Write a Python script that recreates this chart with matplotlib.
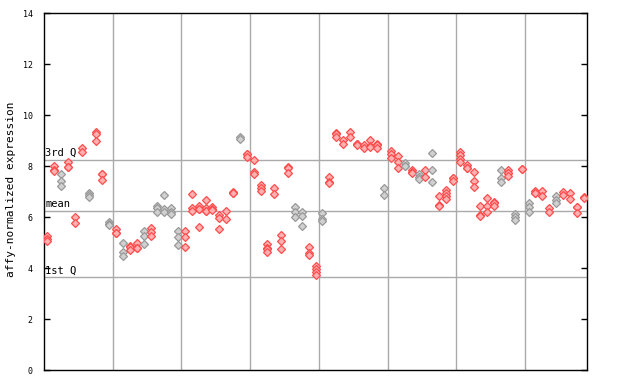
import matplotlib
matplotlib.use("Agg")
import matplotlib.pyplot as plt

# expression values per sample column (replicates)
sample_values = [
    [5.25, 5.15, 5.05], [8.0, 7.85, 7.82], [7.69, 7.40, 7.23], [8.18, 7.98, 7.95],
    [6.0, 5.76], [8.7, 8.57], [6.96, 6.87, 6.78], [9.36, 9.27, 8.99],
    [7.71, 7.68, 7.46], [5.79, 5.72, 5.70], [5.53, 5.39, 5.37], [4.98, 4.65, 4.48],
    [4.85, 4.83, 4.72], [4.98, 4.80, 4.78], [5.46, 5.27, 4.95], [5.57, 5.41, 5.27],
    [6.44, 6.35, 6.2], [6.86, 6.33, 6.22], [6.35, 6.22, 6.12], [5.46, 5.22, 4.89],
    [5.46, 5.22, 4.82], [6.9, 6.35, 6.25], [6.42, 6.33, 6.31, 5.61], [6.67, 6.35, 6.26, 6.24],
    [6.38, 6.32, 6.27], [6.07, 5.96, 5.53], [6.25, 5.92], [6.97, 6.95, 6.93],
    [9.14, 9.06], [8.49, 8.46, 8.35], [8.25, 7.79, 7.7], [7.27, 7.16, 7.04],
    [4.95, 4.77, 4.75, 4.64], [7.14, 6.9], [5.28, 5.07, 4.75], [7.96, 7.93, 7.73],
    [6.38, 6.2, 6.0], [6.22, 6.05, 5.66], [4.82, 4.61, 4.52], [4.09, 3.96, 3.85, 3.74],
    [6.16, 5.92, 5.83], [7.57, 7.37, 7.35], [9.30, 9.27, 9.16], [9.03, 8.87],
    [9.36, 9.14], [8.88, 8.86, 8.84], [8.84, 8.73], [9.03, 8.78, 8.76],
    [8.87, 8.85, 8.73], [7.14, 6.86], [8.6, 8.47, 8.34], [8.38, 8.18, 7.92],
    [8.12, 8.02, 8.0], [7.85, 7.76, 7.74], [7.69, 7.59, 7.5], [7.85, 7.59],
    [8.51, 7.85, 7.37], [6.84, 6.47, 6.45], [7.07, 6.94, 6.84, 6.72], [7.54, 7.52, 7.4],
    [8.55, 8.42, 8.29, 8.16], [8.05, 7.93, 7.91], [7.76, 7.4, 7.2], [6.44, 6.07, 6.05],
    [6.74, 6.42, 6.22], [6.58, 6.56, 6.44], [7.85, 7.53, 7.37], [7.85, 7.74, 7.72, 7.62],
    [6.12, 6.0, 5.87], [7.89, 7.87], [6.55, 6.38, 6.22], [7.03, 6.95, 6.93],
    [7.03, 6.81], [6.35, 6.22], [6.81, 6.68, 6.57], [6.97, 6.85],
    [6.94, 6.72], [6.40, 6.38, 6.16], [6.79, 6.77],
]

# sample group flag per column: 1 = highlighted (red), 0 = other (gray)
sample_group = [
    1, 1, 0, 1, 1, 1, 0, 1, 1, 0, 1, 0, 1, 1, 0, 1,
    0, 0, 0, 0, 1, 1, 1, 1, 1, 1, 1, 1, 0, 1, 1, 1,
    1, 1, 1, 1, 0, 0, 1, 1, 0, 1, 1, 1, 1, 1, 1, 1,
    1, 0, 1, 1, 0, 1, 0, 1, 0, 1, 1, 1, 1, 1, 1, 1,
    1, 1, 0, 1, 0, 1, 0, 1, 1, 1, 0, 1, 1, 1, 1,
]

quartile_names = ["3rd Q", "mean", "1st Q"]
quartile_values = [8.235, 6.235, 3.635]

y_ticks = [0, 2, 4, 6, 8, 10, 12, 14]
group_boundaries = [10, 20, 30, 40, 50, 60, 70]

mono = "DejaVu Sans Mono"
fig = plt.figure(figsize=(6.4, 3.84), dpi=100)
ax = fig.add_axes([44 / 640, 14 / 384, 543 / 640, 356.7 / 384])

ncol = len(sample_values)
ax.set_xlim(0, ncol)
ax.set_ylim(0, 14)

grid_col = "#aaaaaa"
for b in group_boundaries:
    ax.axvline(b, color=grid_col, lw=1.0, zorder=1)
for name, q in zip(quartile_names, quartile_values):
    ax.axhline(q, color=grid_col, lw=1.0, zorder=1)
    ax.text(0.15, q + 0.08, name, fontsize=7.5, family=mono, ha="left", va="bottom", zorder=2)

for i, (vals, g) in enumerate(zip(sample_values, sample_group)):
    if g:
        fc, ec = "#ffb0b0", "#ff4d4d"
    else:
        fc, ec = "#d0d0d0", "#999999"
    ax.plot([i + 0.5] * len(vals), vals, linestyle="none", marker="D", markersize=3.6,
            markerfacecolor=fc, markeredgecolor=ec, markeredgewidth=0.9, zorder=3)

ax.set_yticks(y_ticks)
ax.set_yticklabels([str(t) for t in y_ticks], fontsize=6, family=mono)
ax.set_xticks([])
ax.tick_params(axis="y", direction="in", length=4, width=1, right=True, left=True, pad=8)
for s in ax.spines.values():
    s.set_linewidth(1.0)
    s.set_color("black")

fig.text(11 / 640, 1 - 189 / 384, "affy-normalized expression", rotation=90,
         fontsize=8, family=mono, ha="center", va="center")

fig.savefig("out.png", dpi=100)
